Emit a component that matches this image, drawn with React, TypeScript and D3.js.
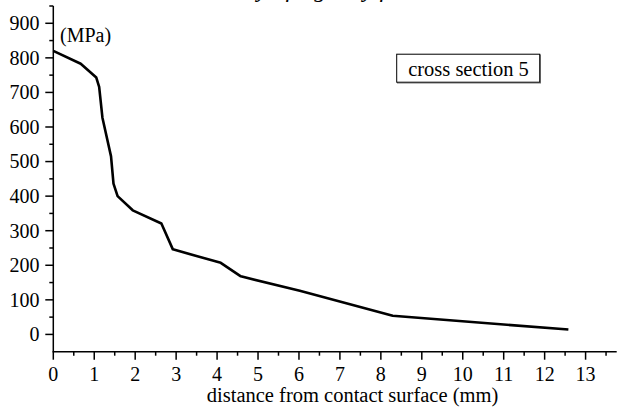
import React from "react";
import * as d3 from "d3";

const distances = [0, 0.67, 1.05, 1.12, 1.2, 1.41, 1.47, 1.57, 1.94, 2.64, 2.92, 4.09, 4.58, 6.02, 8.29, 12.58];
const stresses = [820, 783, 743, 716, 627, 515, 436, 400, 359, 321, 246, 207, 168, 126, 54, 14];
const xTicks = [0, 1, 2, 3, 4, 5, 6, 7, 8, 9, 10, 11, 12, 13];
const yTicks = [0, 100, 200, 300, 400, 500, 600, 700, 800, 900];
const titleText = "Density of rigid by face";
const xLabel = "distance from contact surface (mm)";
const yUnit = "(MPa)";
const legendText = "cross section 5";

export default function App() {
  const W = 623, H = 412;
  const x = d3.scaleLinear().domain([0, 13.76]).range([53.3, 616.7]);
  const y = d3.scaleLinear().domain([-50, 950]).range([351.7, 6]);
  const line = d3.line<number>().x((_, i) => x(distances[i])).y((d) => y(d));
  const ts = { fontFamily: '"Liberation Serif"' };
  const xMinor = d3.range(0.5, 13.76, 1);
  const yMinor = d3.range(50, 951, 100);
  return (
    <svg width={W} height={H} style={{ position: "absolute", left: 0, top: 0, background: "#fff" }}>
      <text x={307} y={-3} textAnchor="middle" fontSize={24} fontStyle="italic" fill="#000" style={ts}>{titleText}</text>
      <line x1={x(0)} x2={x(0)} y1={y(950)} y2={y(-50)} stroke="#000" strokeWidth={1.5} />
      <line x1={x(0) - 0.75} x2={x(13.76)} y1={y(-50)} y2={y(-50)} stroke="#000" strokeWidth={1.5} />
      {yTicks.map((t) => (
        <g key={"y" + t}>
          <line x1={x(0) - 8} x2={x(0)} y1={y(t)} y2={y(t)} stroke="#000" strokeWidth={1.5} />
          <text x={39.5} y={y(t)} dy="0.34em" textAnchor="end" fontSize={20} style={ts}>{t}</text>
        </g>
      ))}
      {yMinor.map((t) => (
        <line key={"ym" + t} x1={x(0) - 4} x2={x(0)} y1={y(t)} y2={y(t)} stroke="#000" strokeWidth={1.5} />
      ))}
      {xTicks.map((t) => (
        <g key={"x" + t}>
          <line x1={x(t)} x2={x(t)} y1={y(-50)} y2={y(-50) + 8} stroke="#000" strokeWidth={1.5} />
          <text x={x(t)} y={380.5} textAnchor="middle" fontSize={20} style={ts}>{t}</text>
        </g>
      ))}
      {xMinor.map((t) => (
        <line key={"xm" + t} x1={x(t)} x2={x(t)} y1={y(-50)} y2={y(-50) + 4} stroke="#000" strokeWidth={1.5} />
      ))}
      <text x={352.5} y={402} textAnchor="middle" fontSize={20.5} style={ts}>{xLabel}</text>
      <text x={60} y={42} fontSize={20} style={ts}>{yUnit}</text>
      <path d={line(stresses) || ""} fill="none" stroke="#000" strokeWidth={2.6} strokeLinejoin="round" />
      <rect x={397.5} y={55} width={143} height={28} fill="none" stroke="#777" strokeWidth={1} />
      <rect x={396.7} y={54.2} width={143} height={28} fill="#fff" stroke="#000" strokeWidth={1} />
      <text x={468.5} y={75.5} textAnchor="middle" fontSize={20.5} style={ts}>{legendText}</text>
    </svg>
  );
}
